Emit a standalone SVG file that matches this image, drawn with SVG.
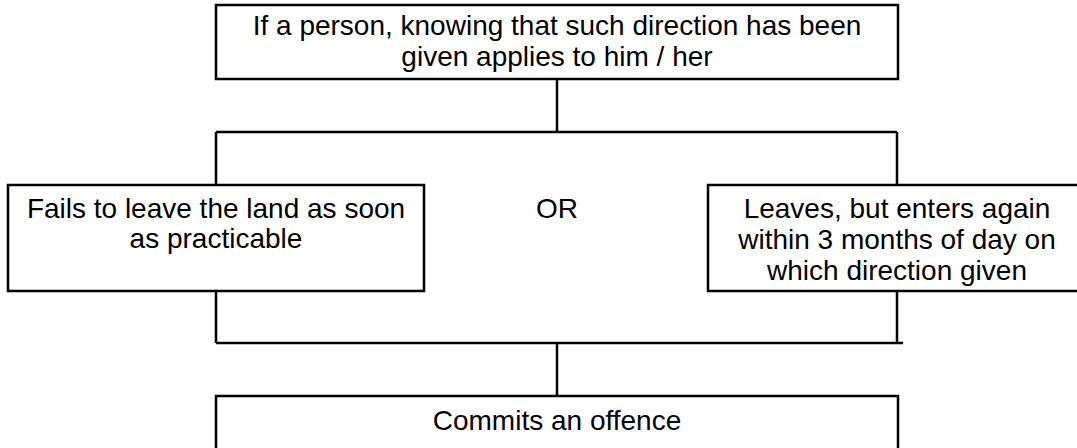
<svg xmlns="http://www.w3.org/2000/svg" width="1077" height="448" viewBox="0 0 1077 448">
<style>
.box{fill:#fff;stroke:#000;stroke-width:2.5}
.ln{fill:none;stroke:#000;stroke-width:2.5}
text{font-family:"Liberation Sans",Arial,sans-serif;font-size:28px;fill:#000;text-anchor:middle}
</style>
<rect width="1077" height="448" fill="#fff"/>
<g id="connectors">
<path class="ln" d="M557,79 V132 M216,132 H897 M216,132 V185 M897,132 V185"/>
<path class="ln" d="M216,291 V343 M897,291 V343 M216,343 H903 M557,343 V396"/>
</g>
<g id="top">
<rect class="box" x="216" y="5" width="682" height="74"/>
<text x="557" y="35">If a person, knowing that such direction has been</text>
<text x="557" y="66">given applies to him / her</text>
</g>
<g id="left">
<rect class="box" x="8" y="185" width="416" height="106"/>
<text x="216" y="218">Fails to leave the land as soon</text>
<text x="216" y="248">as practicable</text>
</g>
<g id="or">
<text x="557" y="218">OR</text>
</g>
<g id="right">
<rect class="box" x="708" y="185" width="380" height="106"/>
<text x="897" y="218">Leaves, but enters again</text>
<text x="897" y="249">within 3 months of day on</text>
<text x="897" y="280">which direction given</text>
</g>
<g id="bottom">
<rect class="box" x="216" y="396" width="682" height="60"/>
<text x="557" y="430">Commits an offence</text>
</g>
</svg>
